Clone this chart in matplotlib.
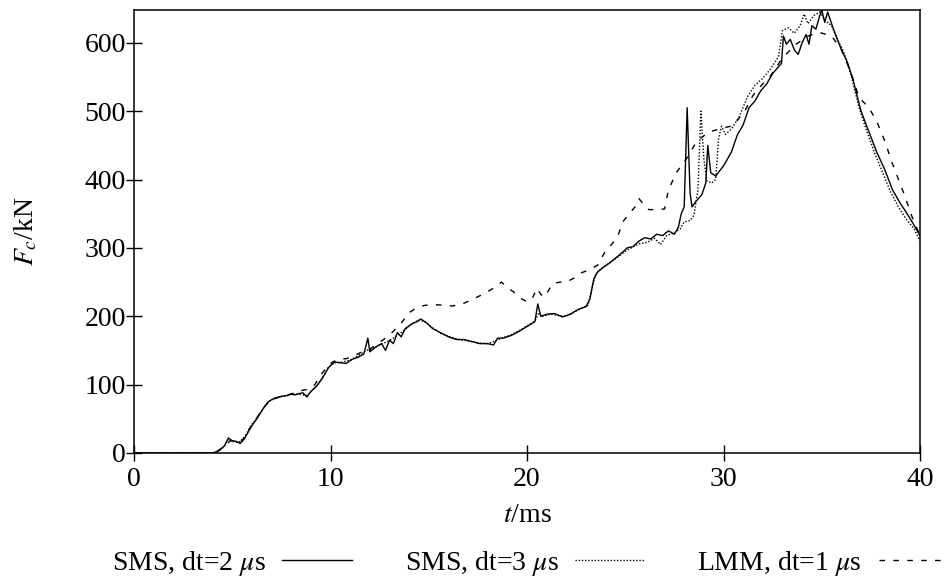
import matplotlib
matplotlib.use("Agg")
import matplotlib.pyplot as plt

plt.rcParams["font.family"] = ["Liberation Serif", "DejaVu Serif"]
plt.rcParams["mathtext.fontset"] = "stix"

# SMS, dt=2 us (solid)
t_sms2 = [0, 4.0, 4.2, 4.4, 4.6, 4.8, 5.0, 5.2, 5.4, 5.6, 5.8, 6.0, 6.2, 6.4, 6.6, 6.8,
          7.0, 7.2, 7.5, 7.8, 8.0, 8.2, 8.4, 8.6, 8.8, 9.0, 9.3, 9.6, 9.9, 10.2, 10.5,
          10.8, 11.1, 11.4, 11.7, 11.9, 12.0, 12.3, 12.6, 12.8, 13.0, 13.2, 13.4, 13.6,
          13.8, 14.0, 14.2, 14.4, 14.6, 14.9, 15.2, 15.6, 16.0, 16.4, 16.8, 17.2, 17.6,
          18.0, 18.3, 18.5, 18.8, 19.2, 19.6, 20.0, 20.4, 20.55, 20.7, 21.0, 21.4, 21.8,
          22.2, 22.6, 23.0, 23.2, 23.4, 23.6, 23.9, 24.2, 24.5, 24.8, 25.1, 25.4, 25.7,
          26.0, 26.3, 26.6, 26.9, 27.2, 27.5, 27.7, 27.85, 28.0, 28.15, 28.3, 28.4, 28.6,
          28.9, 29.1, 29.2, 29.35, 29.6, 30.0, 30.4, 30.7, 31.0, 31.3, 31.6, 31.9, 32.2,
          32.5, 32.8, 32.95, 33.05, 33.2, 33.4, 33.6, 33.8, 34.0, 34.2, 34.35, 34.5, 34.7,
          34.9, 35.0, 35.15, 35.3, 35.5, 35.7, 36.0, 36.3, 36.6, 37.0, 37.4, 37.8, 38.2,
          38.6, 39.0, 39.3, 39.6, 40.0]
f_sms2 = [0, 0, 2, 6, 10, 22, 18, 17, 14, 20, 30, 40, 48, 57, 66, 74,
          78, 80, 83, 84, 86, 85, 87, 88, 82, 90, 98, 110, 125, 133, 132,
          131, 137, 140, 145, 168, 148, 155, 160, 150, 165, 160, 176, 170,
          182, 186, 190, 192, 196, 190, 182, 176, 170, 166, 166, 163, 160,
          160, 158, 168, 168, 172, 178, 185, 192, 218, 200, 203, 204, 199,
          203, 210, 214, 225, 255, 265, 272, 278, 285, 292, 300, 302, 310,
          315, 313, 320, 318, 325, 320, 330, 350, 360, 505, 380, 360, 368,
          378, 395, 450, 410, 405, 420, 440, 465, 480, 505, 515, 530, 540,
          555, 565, 570, 610, 598, 605, 590, 583, 600, 612, 598, 625, 620,
          640, 648, 630, 645, 628, 612, 590, 572, 545, 500, 470, 440, 415,
          385, 365, 352, 338, 318]

# SMS, dt=3 us (dotted)
t_sms3 = [0, 4.0, 4.2, 4.5, 4.8, 5.0, 5.3, 5.6, 6.0, 6.3, 6.6, 6.9, 7.2, 7.6, 8.0, 8.4,
          8.8, 9.1, 9.5, 9.9, 10.2, 10.6, 11.0, 11.4, 11.8, 12.1, 12.5, 12.9, 13.3, 13.7,
          14.1, 14.5, 14.8, 15.2, 15.6, 16.0, 16.5, 17.0, 17.5, 18.0, 18.4, 18.8, 19.2,
          19.6, 20.0, 20.4, 20.6, 20.8, 21.2, 21.6, 22.0, 22.4, 22.8, 23.1, 23.3, 23.5,
          23.8, 24.1, 24.5, 24.9, 25.3, 25.7, 26.1, 26.5, 26.8, 27.1, 27.5, 27.8, 28.0,
          28.3, 28.5, 28.7, 28.85, 29.0, 29.15, 29.4, 29.6, 29.75, 29.9, 30.1, 30.4, 30.8,
          31.2, 31.6, 32.0, 32.4, 32.8, 33.0, 33.3, 33.6, 33.9, 34.1, 34.3, 34.6, 34.9,
          35.2, 35.5, 35.8, 36.1, 36.5, 36.9, 37.3, 37.7, 38.1, 38.5, 38.9, 39.3, 39.7,
          40.0]
f_sms3 = [0, 0, 1, 7, 20, 17, 15, 22, 42, 53, 66, 76, 81, 83, 86, 86,
          84, 92, 106, 126, 132, 133, 136, 142, 150, 152, 158, 163, 170, 178,
          188, 195, 192, 183, 175, 171, 166, 164, 161, 160, 164, 169, 173,
          179, 186, 193, 205, 200, 203, 201, 200, 206, 212, 216, 240, 262,
          270, 276, 284, 293, 300, 306, 308, 314, 305, 318, 322, 328, 338,
          340, 348, 385, 500, 430, 398, 395, 400, 460, 478, 466, 474, 492,
          520, 538, 548, 562, 580, 618, 622, 614, 625, 642, 628, 640, 645,
          632, 625, 605, 588, 552, 505, 470, 438, 410, 382, 360, 342, 328,
          310]

# LMM, dt=1 us (dashed)
t_lmm1 = [0, 4.0, 4.3, 4.6, 4.9, 5.2, 5.5, 5.8, 6.1, 6.4, 6.7, 7.0, 7.4, 7.8, 8.2, 8.6,
          8.9, 9.2, 9.5, 9.8, 10.1, 10.4, 10.8, 11.2, 11.6, 12.0, 12.4, 12.8, 13.2, 13.6,
          14.0, 14.4, 14.8, 15.3, 15.8, 16.2, 16.7, 17.1, 17.6, 18.0, 18.4, 18.7, 19.0,
          19.3, 19.7, 20.0, 20.3, 20.5, 20.7, 20.9, 21.3, 21.7, 22.0, 22.4, 22.8, 23.2,
          23.6, 24.0, 24.3, 24.6, 24.9, 25.2, 25.5, 25.7, 25.9, 26.2, 26.6, 27.0, 27.2,
          27.6, 28.1, 28.6, 29.2, 29.8, 30.5, 31.1, 31.5, 32.0, 32.4, 33.0, 33.7, 34.3,
          34.9, 35.5, 36.0, 36.5, 36.9, 37.4, 37.8, 38.2, 38.6, 39.2, 39.6, 40.0]
f_lmm1 = [0, 0, 3, 10, 18, 16, 18, 32, 45, 58, 70, 78, 82, 85, 88, 92,
          93, 100, 114, 125, 133, 137, 138, 142, 148, 152, 160, 168, 178, 190,
          205, 213, 216, 217, 216, 215, 218, 223, 230, 236, 243, 250, 242,
          236, 226, 221, 228, 241, 232, 228, 248, 250, 250, 256, 264, 268,
          275, 296, 305, 316, 339, 350, 360, 372, 365, 356, 356, 357, 385,
          410, 430, 454, 469, 474, 479, 501, 523, 540, 552, 578, 598, 610,
          615, 610, 590, 555, 520, 505, 485, 457, 423, 378, 345, 318]

labels = ["SMS, dt=2 $\\mu$s", "SMS, dt=3 $\\mu$s", "LMM, dt=1 $\\mu$s"]

fig = plt.figure(figsize=(9.46, 5.85), dpi=100)
ax = fig.add_axes([134 / 946, 1 - 453 / 585, 786 / 946, 443 / 585])

ax.plot(t_sms2, f_sms2, color="black", lw=1.0, ls="-", label=labels[0])
ax.plot(t_sms3, f_sms3, color="black", lw=1.0, ls=(0, (1, 1.3)), label=labels[1])
ax.plot(t_lmm1, f_lmm1, color="black", lw=1.0, ls=(0, (4, 6)), label=labels[2])

ax.set_xlim(0, 40)
ax.set_ylim(0, 648)
ax.set_xticks([0, 10, 20, 30, 40])
ax.set_yticks([0, 100, 200, 300, 400, 500, 600])
ax.tick_params(direction="inout", length=12, width=1, labelsize=20, color="black")
ax.tick_params(axis="x", pad=4)
ax.tick_params(axis="y", pad=0)
for s in ax.spines.values():
    s.set_linewidth(1.1)

ax.set_xlabel("$t$/ms", fontsize=20, labelpad=8)
ax.set_ylabel("$F_c$/kN", fontsize=20)
ax.yaxis.set_label_coords(-0.12, 0.5)

fig.legend(loc="center left", bbox_to_anchor=(112 / 946, 1 - 563 / 585), ncol=3,
           markerfirst=False, frameon=False, fontsize=20, handlelength=2.5,
           handletextpad=0.6, columnspacing=1.9, borderpad=0, borderaxespad=0)

fig.savefig("out.png", dpi=100)
